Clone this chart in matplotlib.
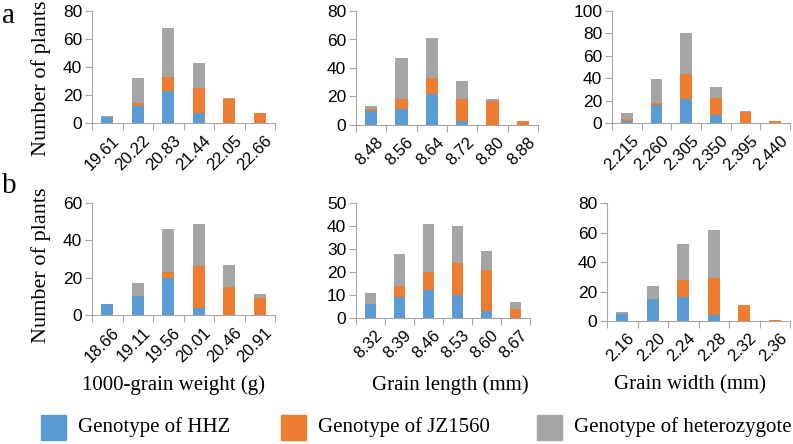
import matplotlib
matplotlib.use("Agg")
import matplotlib.pyplot as plt
import numpy as np
from matplotlib.patches import Rectangle

# ---- data -----------------------------------------------------------------
tgw_a = ["19.61", "20.22", "20.83", "21.44", "22.05", "22.66"]
tgw_a_hhz = [4, 12, 23, 7, 0, 0]
tgw_a_jz = [0, 2, 10, 18, 17, 7]
tgw_a_het = [1, 18, 35, 18, 1, 0]

gl_a = ["8.48", "8.56", "8.64", "8.72", "8.80", "8.88"]
gl_a_hhz = [10, 11, 22, 3, 0, 0]
gl_a_jz = [1, 7, 11, 15, 17, 3]
gl_a_het = [2, 29, 28, 13, 1, 0]

gw_a = ["2.215", "2.260", "2.305", "2.350", "2.395", "2.440"]
gw_a_hhz = [2, 16, 21, 7, 0, 0]
gw_a_jz = [2, 2, 23, 15, 10, 2]
gw_a_het = [5, 21, 36, 10, 1, 0]

tgw_b = ["18.66", "19.11", "19.56", "20.01", "20.46", "20.91"]
tgw_b_hhz = [6, 10, 20, 4, 0, 0]
tgw_b_jz = [0, 0, 3, 22, 15, 9]
tgw_b_het = [0, 7, 23, 23, 12, 2]

gl_b = ["8.32", "8.39", "8.46", "8.53", "8.60", "8.67"]
gl_b_hhz = [6, 9, 12, 10, 3, 0]
gl_b_jz = [0, 5, 8, 14, 18, 4]
gl_b_het = [5, 14, 21, 16, 8, 3]

gw_b = ["2.16", "2.20", "2.24", "2.28", "2.32", "2.36"]
gw_b_hhz = [5, 15, 16, 4, 0, 0]
gw_b_jz = [0, 0, 12, 25, 11, 1]
gw_b_het = [1, 9, 24, 33, 0, 0]

xlabels = ["1000-grain weight (g)", "Grain length (mm)", "Grain width (mm)"]
legend_labels = ["Genotype of HHZ", "Genotype of JZ1560", "Genotype of heterozygote"]

BLUE, ORANGE, GRAY = "#5B9BD5", "#ED7D31", "#A5A5A5"
AXC = "#A6A6A6"
W, H = 793, 444
SERIF = "Liberation Serif"
SANS = "Liberation Sans"

fig = plt.figure(figsize=(W / 100, H / 100), dpi=100)


def px_axes(left, right, top, bottom):
    return fig.add_axes([left / W, 1 - bottom / H, (right - left) / W, (bottom - top) / H])


def fy(y):
    return 1 - y / H


def panel(ax, cats, hhz, jz, het, ymax, ystep):
    x = np.arange(len(cats))
    hhz, jz, het = map(np.asarray, (hhz, jz, het))
    w = 0.4
    ax.bar(x, hhz, w, color=BLUE)
    ax.bar(x, jz, w, bottom=hhz, color=ORANGE)
    ax.bar(x, het, w, bottom=hhz + jz, color=GRAY)
    ax.set_xlim(-0.5, len(cats) - 0.5)
    ax.set_ylim(0, ymax)
    ax.set_yticks(np.arange(0, ymax + 1, ystep))
    ax.set_xticks(np.arange(-0.5, len(cats), 1.0))
    ax.set_xticklabels([])
    ax.set_xticks(x + 0.15, minor=True)
    ax.set_xticklabels(cats, minor=True, rotation=45, ha="right", va="top",
                       rotation_mode="anchor", fontsize=12, family=SANS)
    ax.tick_params(axis="x", which="minor", length=0, pad=7)
    ax.tick_params(axis="x", which="major", length=5, color=AXC, direction="out")
    ax.tick_params(axis="y", length=5, color=AXC, labelsize=12.5, pad=2)
    for lab in ax.get_yticklabels():
        lab.set_family(SANS)
    for s in ("top", "right"):
        ax.spines[s].set_visible(False)
    for s in ("left", "bottom"):
        ax.spines[s].set_color(AXC)


a1 = px_axes(92, 275, 11, 123)
a2 = px_axes(356, 538, 11, 125)
a3 = px_axes(612, 790, 11, 123)
b1 = px_axes(92, 275, 203, 315)
b2 = px_axes(356, 530, 203, 318)
b3 = px_axes(607, 790, 203, 321)

panel(a1, tgw_a, tgw_a_hhz, tgw_a_jz, tgw_a_het, 80, 20)
panel(a2, gl_a, gl_a_hhz, gl_a_jz, gl_a_het, 80, 20)
panel(a3, gw_a, gw_a_hhz, gw_a_jz, gw_a_het, 100, 20)
panel(b1, tgw_b, tgw_b_hhz, tgw_b_jz, tgw_b_het, 60, 20)
panel(b2, gl_b, gl_b_hhz, gl_b_jz, gl_b_het, 50, 10)
panel(b3, gw_b, gw_b_hhz, gw_b_jz, gw_b_het, 80, 20)

# y labels and panel letters
for yc in (78, 265):
    fig.text(41 / W, fy(yc), "Number of plants", family=SERIF, fontsize=16,
             rotation=90, ha="center", va="center")
fig.text(2 / W, fy(16), "a", family=SERIF, fontsize=21, va="center")
fig.text(2 / W, fy(186), "b", family=SERIF, fontsize=21, va="center")

for xc, lab in zip([173, 450, 690], xlabels):
    fig.text(xc / W, fy(385), lab, family=SERIF, fontsize=15, ha="center", va="center")

# legend drawn as figure-level patches + text
for x0, col, lab in zip([41, 281, 537], [BLUE, ORANGE, GRAY], legend_labels):
    fig.patches.append(Rectangle((x0 / W, fy(440)), 25 / W, 25 / H,
                                 transform=fig.transFigure, color=col))
    fig.text((x0 + 37) / W, fy(427), lab, family=SERIF, fontsize=15, va="center")

fig.savefig("out.png", dpi=100)
